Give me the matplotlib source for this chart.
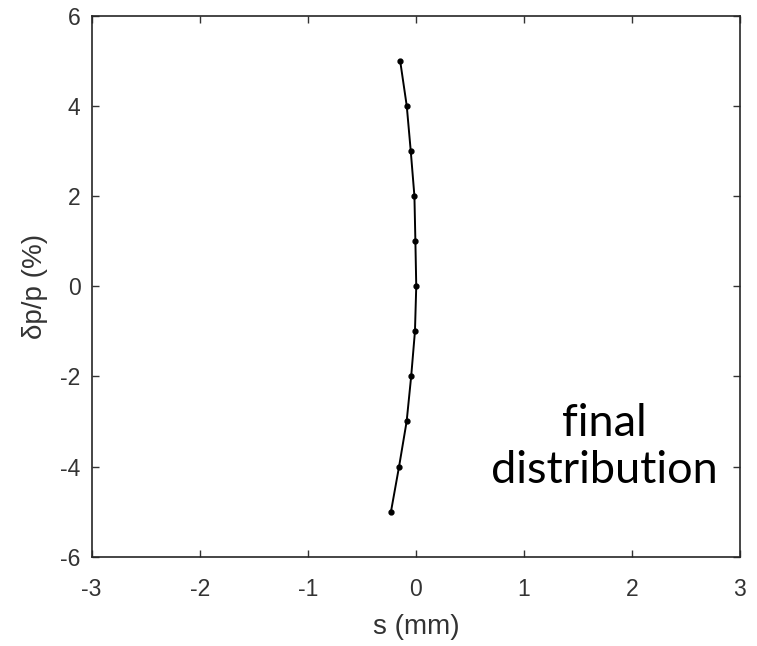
import matplotlib
matplotlib.use('Agg')
import matplotlib.pyplot as plt

# momentum offset (%) and longitudinal position (mm) of the final distribution
dp = [5, 4, 3, 2, 1, 0, -1, -2, -3, -4, -5]
s = [-0.145, -0.084, -0.047, -0.013, -0.004, 0.004, -0.008, -0.043, -0.085, -0.155, -0.23]

xticks = [-3, -2, -1, 0, 1, 2, 3]
yticks = [-6, -4, -2, 0, 2, 4, 6]

plt.rcParams['font.family'] = ['Liberation Sans', 'DejaVu Sans']
plt.rcParams['axes.unicode_minus'] = False

fig = plt.figure(figsize=(7.57, 6.46), dpi=100)
ax = fig.add_axes([0.1211, 0.1382, 0.8564, 0.8375])

ax.plot(s, dp, color='black', linewidth=1.4, marker='.', markersize=7)

ax.set_xlim(-3, 3)
ax.set_ylim(-6, 6)
ax.set_xticks(xticks)
ax.set_yticks(yticks)

grey = '#333333'
ax.tick_params(direction='in', length=5, width=1.0, colors=grey,
               labelsize=16.5, top=True, right=True, labeltop=False,
               labelright=False)
ax.tick_params(axis='x', pad=15)
ax.tick_params(axis='y', pad=8)
for sp in ax.spines.values():
    sp.set_color('#262626')
    sp.set_linewidth(1.2)

ax.set_xlabel('s (mm)', fontsize=20, color=grey, labelpad=10)
ax.set_ylabel('\u03b4p/p (%)', fontsize=20, color=grey, labelpad=9)

ax.text(1.742, -3.32, 'final', ha='center', va='baseline',
        fontsize=32.5, family=['Lato', 'DejaVu Sans'])
ax.text(1.742, -4.37, 'distribution', ha='center', va='baseline',
        fontsize=32.5, family=['Lato', 'DejaVu Sans'])

fig.savefig('out.png', dpi=100)
